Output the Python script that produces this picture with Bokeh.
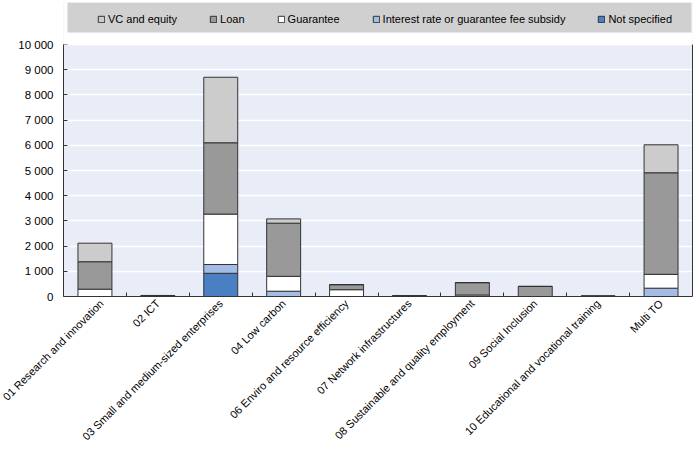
import math
from bokeh.plotting import figure
from bokeh.models import (ColumnDataSource, FixedTicker, Legend, LegendItem,
                          LinearAxis, Range1d, BoxAnnotation)
from bokeh.embed import file_html
from bokeh.resources import INLINE

categories = [
    "01 Research and innovation",
    "02 ICT",
    "03 Small and medium-sized enterprises",
    "04 Low carbon",
    "06 Enviro and resource efficiency",
    "07 Network infrastructures",
    "08 Sustainable and quality employment",
    "09 Social Inclusion",
    "10 Educational and vocational training",
    "Multi TO",
]
not_specified = [0, 0, 920, 0, 0, 0, 0, 0, 0, 0]
interest_subsidy = [0, 0, 350, 210, 0, 0, 0, 0, 0, 330]
guarantee = [290, 0, 2000, 590, 270, 0, 60, 0, 0, 550]
loan = [1090, 40, 2830, 2110, 200, 30, 490, 400, 20, 4030]
vc_equity = [735, 0, 2600, 170, 0, 0, 0, 0, 0, 1110]

series_keys = ["ns", "ir", "gu", "lo", "vc"]
series_names = ["Not specified", "Interest rate or guarantee fee subsidy",
                "Guarantee", "Loan", "VC and equity"]
series_colors = ["#4a7fc1", "#a4bbe6", "#ffffff", "#999999", "#cccccc"]

y_ticks = [0, 1000, 2000, 3000, 4000, 5000, 6000, 7000, 8000, 9000, 10000]
y_tick_labels = ["0", "1 000", "2 000", "3 000", "4 000", "5 000", "6 000",
                 "7 000", "8 000", "9 000", "10 000"]
Y_MAX = 10000

FONT = "'Liberation Sans', Arial, sans-serif"
DARK = "#333333"

xs = list(range(len(categories)))
src = ColumnDataSource(dict(x=xs, ns=not_specified, ir=interest_subsidy,
                            gu=guarantee, lo=loan, vc=vc_equity))

# frame extends above the value area to host the legend band
FRAME_W = 629
FRAME_H = 294
VALUE_H = 252
BAND_H = 30
n = len(categories)
px_x = FRAME_W / n
p = figure(width=699, height=452, frame_width=FRAME_W, frame_height=FRAME_H,
           x_range=Range1d(-0.5, n - 0.5),
           y_range=Range1d(0, Y_MAX * FRAME_H / VALUE_H),
           output_backend="svg", toolbar_location=None,
           min_border_left=63, min_border_right=7,
           min_border_top=2, min_border_bottom=150)
p.background_fill_color = "#e9edf7"
p.border_fill_color = "#ffffff"
p.outline_line_color = None

renderers = p.vbar_stack(series_keys, x="x", width=0.54, source=src,
                         fill_color=series_colors, line_color=DARK,
                         line_width=1)

# white band above the value area, grey legend band on top
p.add_layout(BoxAnnotation(bottom=Y_MAX, fill_color="#ffffff", fill_alpha=1.0,
                           line_color=None))
p.add_layout(BoxAnnotation(bottom=Y_MAX * (FRAME_H - BAND_H) / VALUE_H,
                           left=-0.5 + 4 / px_x, right=n - 0.5 - 1 / px_x,
                           fill_color="#d0d0d0", fill_alpha=1.0,
                           line_color=None))

# grid
p.xgrid.grid_line_color = None
p.ygrid.grid_line_color = "#ffffff"
p.ygrid.grid_line_width = 1.5

# y axis
p.yaxis.ticker = FixedTicker(ticks=y_ticks)
p.yaxis.bounds = (0, Y_MAX)
p.yaxis.major_label_overrides = dict(zip(y_ticks, y_tick_labels))
p.yaxis.major_tick_in = 4
p.yaxis.major_tick_out = 0
p.yaxis.minor_tick_line_color = None
p.yaxis.major_tick_line_color = DARK
p.yaxis.axis_line_color = DARK
p.yaxis.major_label_text_font = FONT
p.yaxis.major_label_text_font_size = "11.5px"
p.yaxis.major_label_text_color = "#000000"
p.yaxis.major_label_standoff = 10
p.ygrid.ticker = FixedTicker(ticks=y_ticks)

# x axis
bounds = [i + 0.5 for i in xs[:-1]]
p.xaxis.ticker = FixedTicker(ticks=xs, minor_ticks=bounds)
p.xaxis.major_label_overrides = dict(zip(xs, categories))
p.xaxis.major_label_orientation = math.pi / 4
p.xaxis.major_tick_in = 0
p.xaxis.major_tick_out = 0
p.xaxis.minor_tick_in = 4
p.xaxis.minor_tick_out = 0
p.xaxis.minor_tick_line_color = DARK
p.xaxis.axis_line_color = DARK
p.xaxis.major_label_text_font = FONT
p.xaxis.major_label_text_font_size = "11px"
p.xaxis.major_label_text_color = "#000000"
p.xaxis.major_label_standoff = 5

# right border
right_axis = LinearAxis(ticker=FixedTicker(ticks=[]), bounds=(0, Y_MAX),
                        major_label_text_font_size="0px",
                        major_tick_line_color=None,
                        minor_tick_line_color=None,
                        axis_line_color=DARK)
p.add_layout(right_axis, "right")

# legend
order = [4, 3, 2, 1, 0]
legend = Legend(
    items=[LegendItem(label=series_names[i], renderers=[renderers[i]]) for i in order],
    orientation="horizontal",
    location=(34, 270),
    background_fill_alpha=0.0,
    border_line_color=None,
    label_text_font=FONT,
    label_text_font_size="11px",
    label_text_color="#000000",
    label_standoff=3,
    spacing=32,
    padding=8,
    margin=0,
    label_height=14,
    glyph_height=8,
    glyph_width=8,
)
p.add_layout(legend, "center")

open("out.html", "w").write(file_html(p, INLINE))
